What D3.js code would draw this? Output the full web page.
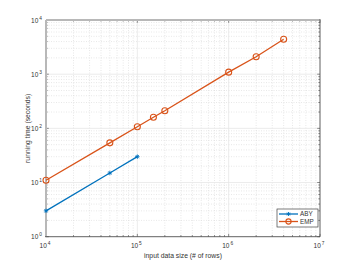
<!DOCTYPE html>
<html><head><meta charset="utf-8">
<script src="https://cdn.jsdelivr.net/npm/d3@7"></script>
<style>body{margin:0;background:#fff}svg{display:block}text{font-family:"Liberation Sans",Arial,sans-serif}</style>
</head><body><svg id="c" width="355" height="266"></svg>
<script>
const abyX = [1e4, 5e4, 1e5];
const abyY = [3.0, 15, 30];
const empX = [1e4, 5e4, 1e5, 1.5e5, 2e5, 1e6, 2e6, 4e6];
const empY = [11, 54, 107, 160, 211, 1090, 2100, 4400];
const xDecades = [4, 5, 6, 7];
const yDecades = [0, 1, 2, 3, 4];
const seriesNames = ["ABY", "EMP"];

const svg = d3.select("#c");
const L = 46, R = 320, T = 20, B = 236.7;
const x = d3.scaleLog().domain([1e4, 1e7]).range([L, R]);
const y = d3.scaleLog().domain([1, 1e4]).range([B, T]);

const minorX = [], minorY = [];
for (let d = 4; d < 7; d++) for (let m = 2; m <= 9; m++) minorX.push(m * Math.pow(10, d));
for (let d = 0; d < 4; d++) for (let m = 2; m <= 9; m++) minorY.push(m * Math.pow(10, d));
const majX = xDecades.map(d => Math.pow(10, d));
const majY = yDecades.map(d => Math.pow(10, d));

const g = svg.append("g");
// minor grid
g.selectAll(".mgx").data(minorX).enter().append("line")
  .attr("x1", d => x(d)).attr("x2", d => x(d)).attr("y1", T).attr("y2", B)
  .attr("stroke", "#d8d8d8").attr("stroke-width", 0.6).attr("stroke-dasharray", "1,1.5");
g.selectAll(".mgy").data(minorY).enter().append("line")
  .attr("y1", d => y(d)).attr("y2", d => y(d)).attr("x1", L).attr("x2", R)
  .attr("stroke", "#d8d8d8").attr("stroke-width", 0.6).attr("stroke-dasharray", "1,1.5");
// major grid
g.selectAll(".gx").data(majX).enter().append("line")
  .attr("x1", d => x(d)).attr("x2", d => x(d)).attr("y1", T).attr("y2", B)
  .attr("stroke", "#e6e6e6").attr("stroke-width", 0.8);
g.selectAll(".gy").data(majY).enter().append("line")
  .attr("y1", d => y(d)).attr("y2", d => y(d)).attr("x1", L).attr("x2", R)
  .attr("stroke", "#e6e6e6").attr("stroke-width", 0.8);

// ticks on all sides
const tickCol = "#444";
function ticksX(vals, len, yy, dir) {
  g.selectAll(null).data(vals).enter().append("line")
    .attr("x1", d => x(d)).attr("x2", d => x(d)).attr("y1", yy).attr("y2", yy + dir * len)
    .attr("stroke", tickCol).attr("stroke-width", 0.6);
}
function ticksY(vals, len, xx, dir) {
  g.selectAll(null).data(vals).enter().append("line")
    .attr("y1", d => y(d)).attr("y2", d => y(d)).attr("x1", xx).attr("x2", xx + dir * len)
    .attr("stroke", tickCol).attr("stroke-width", 0.6);
}
ticksX(majX, 2.8, B, -1); ticksX(minorX, 1.6, B, -1);
ticksX(majX, 2.8, T, 1); ticksX(minorX, 1.6, T, 1);
ticksY(majY, 2.8, L, 1); ticksY(minorY, 1.6, L, 1);
ticksY(majY, 2.8, R, -1); ticksY(minorY, 1.6, R, -1);

// axes box
g.append("line").attr("x1", L).attr("x2", R).attr("y1", T).attr("y2", T).attr("stroke", "#b8b8b8").attr("stroke-width", 2);
g.append("line").attr("x1", L).attr("x2", L).attr("y1", T).attr("y2", B).attr("stroke", "#b8b8b8").attr("stroke-width", 2);
g.append("line").attr("x1", L - 1).attr("x2", R).attr("y1", B).attr("y2", B).attr("stroke", "#444").attr("stroke-width", 0.8);
g.append("line").attr("x1", R).attr("x2", R).attr("y1", T - 1).attr("y2", B).attr("stroke", "#444").attr("stroke-width", 0.8);

// tick labels
const lab = "#333";
xDecades.forEach(d => {
  const t = g.append("text").attr("x", x(Math.pow(10, d)) - 1).attr("y", B + 11)
    .attr("text-anchor", "middle").attr("font-size", 6.5).attr("fill", lab);
  t.append("tspan").text("10");
  t.append("tspan").attr("dy", -3).attr("dx", 1).attr("font-size", 4.8).text(d);
});
yDecades.forEach(d => {
  const t = g.append("text").attr("x", L - 4).attr("y", y(Math.pow(10, d)) + 2.5)
    .attr("text-anchor", "end").attr("font-size", 6.5).attr("fill", lab);
  t.append("tspan").text("10");
  t.append("tspan").attr("dy", -3).attr("dx", 1).attr("font-size", 4.8).text(d);
});

// axis labels
g.append("text").attr("x", (L + R) / 2).attr("y", 258).attr("text-anchor", "middle")
  .attr("font-size", 6.8).attr("fill", lab).text("input data size (# of rows)");
g.append("text").attr("transform", `translate(${30},${(T + B) / 2}) rotate(-90)`)
  .attr("text-anchor", "middle").attr("font-size", 6.8).attr("fill", lab).text("running time (seconds)");

const blue = "#0072BD", orange = "#D95319";
const line = d3.line().x(d => x(d[0])).y(d => y(d[1]));
const aby = abyX.map((v, i) => [v, abyY[i]]);
const emp = empX.map((v, i) => [v, empY[i]]);
g.append("path").attr("d", line(aby)).attr("fill", "none").attr("stroke", blue).attr("stroke-width", 1.3);
g.append("path").attr("d", line(emp)).attr("fill", "none").attr("stroke", orange).attr("stroke-width", 1.3);

const star = d3.symbol().type(d3.symbolAsterisk || d3.symbolCross).size(10);
function asterisk(sel, cx, cy, r, col) {
  const a = sel.append("g").attr("transform", `translate(${cx},${cy})`);
  [[-r,0,r,0],[0,-r,0,r],[-r*0.7,-r*0.7,r*0.7,r*0.7],[-r*0.7,r*0.7,r*0.7,-r*0.7]].forEach(s =>
    a.append("line").attr("x1", s[0]).attr("y1", s[1]).attr("x2", s[2]).attr("y2", s[3]).attr("stroke", col).attr("stroke-width", 0.9));
}
aby.forEach(d => asterisk(g, x(d[0]), y(d[1]), 2.2, blue));
g.selectAll(".em").data(emp).enter().append("circle")
  .attr("cx", d => x(d[0])).attr("cy", d => y(d[1])).attr("r", 3)
  .attr("fill", "none").attr("stroke", orange).attr("stroke-width", 1.1);

// legend
const lg = g.append("g");
lg.append("rect").attr("x", 277).attr("y", 209).attr("width", 41).attr("height", 18)
  .attr("fill", "#fff").attr("stroke", "#444").attr("stroke-width", 0.7);
const items = [{n: seriesNames[0], c: blue, t: "a"}, {n: seriesNames[1], c: orange, t: "o"}];
items.forEach((it, i) => {
  const yy = 214 + i * 7.5;
  lg.append("line").attr("x1", 279).attr("x2", 298).attr("y1", yy).attr("y2", yy).attr("stroke", it.c).attr("stroke-width", 1.3);
  if (it.t === "a") asterisk(lg, 288.5, yy, 2, it.c);
  else lg.append("circle").attr("cx", 288.5).attr("cy", yy).attr("r", 2.6).attr("fill", "none").attr("stroke", it.c).attr("stroke-width", 1.1);
  lg.append("text").attr("x", 300).attr("y", yy + 2.3).attr("font-size", 6.3).attr("fill", lab).text(it.n);
});
</script></body></html>
